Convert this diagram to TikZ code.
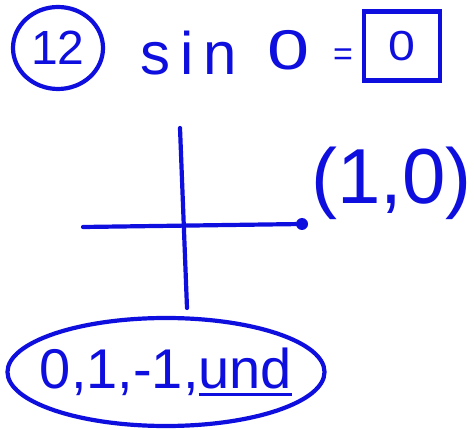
\documentclass[tikz,border=0pt]{standalone}
\usepackage{fontspec}
\setmainfont{Liberation Sans}
\usepackage{xcolor}
\usetikzlibrary{shapes.geometric}
\definecolor{inkblue}{RGB}{14,14,222}
% thick hand-drawn underline
\newcommand{\handline}[1]{{\setbox0\hbox{#1}\rlap{\rule[-8pt]{\wd0}{3.6pt}}\box0}}

\begin{document}
\begin{tikzpicture}[
		x=1pt, y=-1pt,
		ink/.style={
			draw=inkblue,
			line width=4.2pt,
			line cap=round
		},
		hand/.style={
			text=inkblue,
			inner sep=0pt,
			font=\fontsize{56}{56}\selectfont
		},
		ring/.style={
			ellipse,
			draw=inkblue,
			line width=4.2pt
		},
		dot/.style={
			circle,
			fill=inkblue,
			inner sep=0pt,
			minimum size=12pt
		}
		]
		\useasboundingbox (0,0) rectangle (474,430);
		
		% Problem number
		\node[hand, ring, font=\fontsize{48}{48}\selectfont, minimum width=90, minimum height=82] (num) at (58,48) {12};
		
		% Question
		\node[hand, anchor=base west, font=\fontsize{60}{60}\selectfont] (sinlbl) at (140,75) {s\,i\,n};
		\node[hand, anchor=base] (arg) at (289,70) {\scalebox{1.35}[1]{0}};
		\node[hand, font=\fontsize{34}{34}\selectfont] (eq) at (343,57) {=};
		\node[hand, draw=inkblue, line width=4.2pt, font=\fontsize{42}{42}\selectfont,
			minimum width=76, minimum height=69] (ans) at (402,46) {\scalebox{1.15}[1]{0}};
		
		% Axes
		\coordinate (xleft) at (83,227);
		\coordinate (ytop) at (180,128);
		\coordinate (ybot) at (187,308);
		\node[dot] (pt) at (302,224) {};
		\draw[ink] (xleft) -- (pt);
		\draw[ink] (ytop) -- (ybot);
		
		% Point label
		\node[hand, font=\fontsize{78}{78}\selectfont, anchor=west] (ptlbl) at (311,183) {(1,0)};
		
		% Choices
		\node[hand, ring, inner xsep=-14pt, minimum width=314, minimum height=108] (choices) at (166,372)
		{0,1,-1,\handline{und}};
		
	\end{tikzpicture}
\end{document}
